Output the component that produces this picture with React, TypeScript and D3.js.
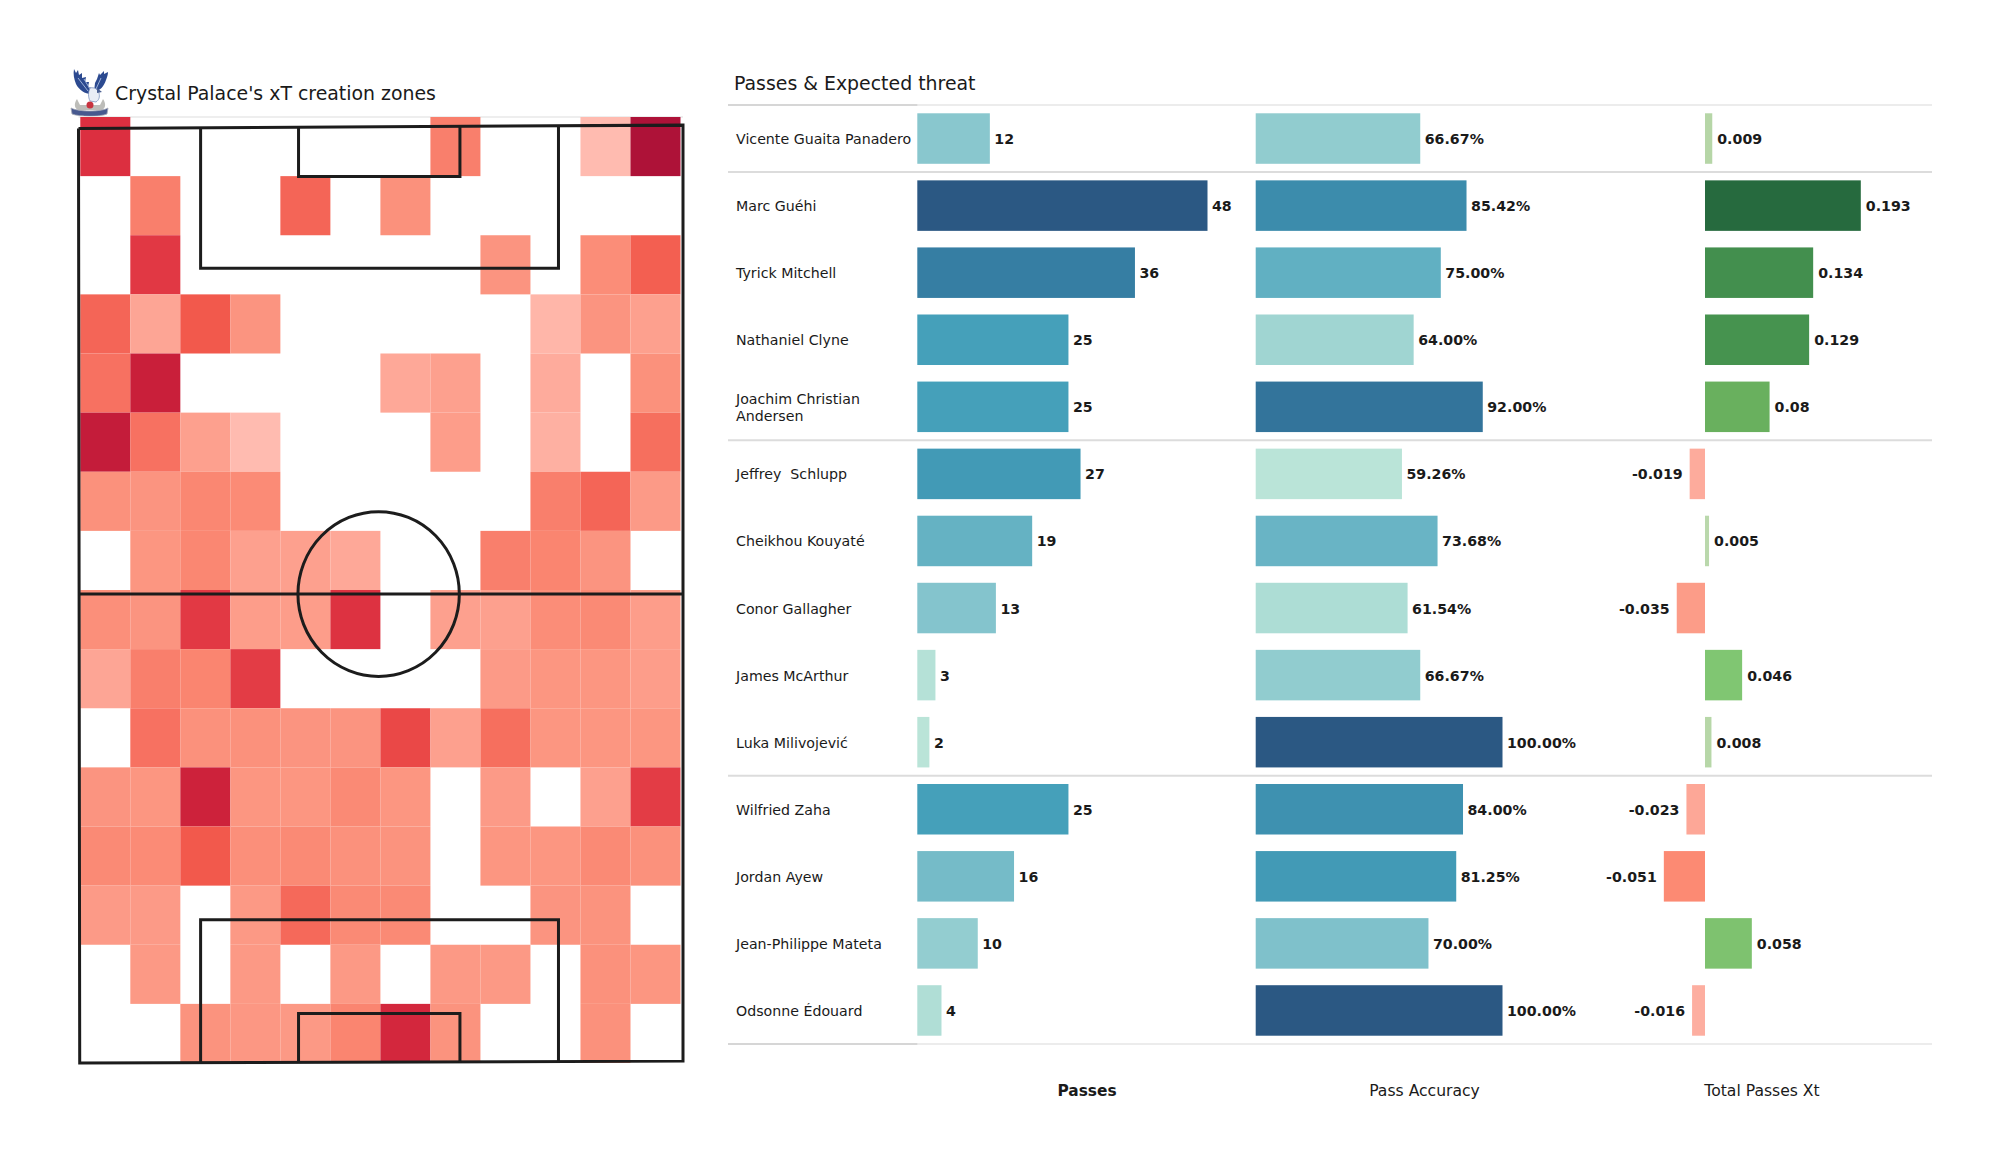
import * as d3 from 'd3';

const FONT = '"DejaVu Sans", sans-serif';
const INK = '#1a1a1a';

// heat map cells, top row first, 0 = no zone drawn
const zoneRow00 = [.8, 0, 0, 0, 0, 0, 0, .42, 0, 0, .1, 1];
const zoneRow01 = [0, .42, 0, 0, .52, 0, .3, 0, 0, 0, 0, 0];
const zoneRow02 = [0, .73, 0, 0, 0, 0, 0, 0, .28, 0, .33, .55];
const zoneRow03 = [.52, .18, .58, .28, 0, 0, 0, 0, 0, .12, .28, .2];
const zoneRow04 = [.47, .9, 0, 0, 0, 0, .17, .2, 0, .16, 0, .3];
const zoneRow05 = [.92, .47, .2, .1, 0, 0, 0, .22, 0, .14, 0, .48];
const zoneRow06 = [.3, .28, .38, .35, 0, 0, 0, 0, 0, .42, .52, .24];
const zoneRow07 = [0, .27, .38, .2, .2, .17, 0, 0, .42, .4, .28, 0];
const zoneRow08 = [.32, .28, .72, .22, .22, .78, 0, .2, .2, .33, .36, .22];
const zoneRow09 = [.18, .42, .4, .7, 0, 0, 0, 0, .24, .27, .27, .22];
const zoneRow10 = [0, .47, .3, .3, .28, .28, .65, .2, .48, .27, .27, .27];
const zoneRow11 = [.28, .27, .88, .27, .27, .36, .27, 0, .24, 0, .2, .7];
const zoneRow12 = [.36, .35, .58, .32, .36, .3, .29, 0, .27, .27, .36, .3];
const zoneRow13 = [.24, .24, 0, .25, .5, .36, .36, 0, 0, .28, .29, 0];
const zoneRow14 = [0, .25, 0, .25, 0, .25, 0, .25, .25, 0, .3, .27];
const zoneRow15 = [0, 0, .29, .26, .25, .4, .85, .29, 0, 0, .3, 0];
const zones = [zoneRow00, zoneRow01, zoneRow02, zoneRow03, zoneRow04, zoneRow05, zoneRow06, zoneRow07,
    zoneRow08, zoneRow09, zoneRow10, zoneRow11, zoneRow12, zoneRow13, zoneRow14, zoneRow15];

const players = [
    'Vicente Guaita Panadero', 'Marc Guéhi', 'Tyrick Mitchell', 'Nathaniel Clyne',
    'Joachim Christian\nAndersen', 'Jeffrey  Schlupp', 'Cheikhou Kouyaté', 'Conor Gallagher',
    'James McArthur', 'Luka Milivojević', 'Wilfried Zaha', 'Jordan Ayew',
    'Jean-Philippe Mateta', 'Odsonne Édouard',
];
const passes = [12, 48, 36, 25, 25, 27, 19, 13, 3, 2, 25, 16, 10, 4];
const accuracy = [66.67, 85.42, 75, 64, 92, 59.26, 73.68, 61.54, 66.67, 100, 84, 81.25, 70, 100];
const passesXt = [0.009, 0.193, 0.134, 0.129, 0.08, -0.019, 0.005, -0.035, 0.046, 0.008, -0.023, -0.051, 0.058, -0.016];
const separatorsAfter = [0, 4, 9];

// pitch markings, in percent of the pitch
const outerLine: [number, number][] = [[0, 0.15], [100, -0.2], [100, 99.8], [0.2, 100], [0, 0.15]];
const boxX = [20.2, 79.4];
const topBoxDepth = 15.1;
const bottomBoxDepth = 15.3;
const sixX = [36.4, 63.1];
const sixDepth = 5.3;
const halfway = 49.9;
const circleX = [36.3, 63];
const circleY = [41.1, 58.7];

const zoneColor = d3.scaleLinear<string>()
    .domain([.1, .2, .3, .4, .5, .6, .7, .8, .9, 1])
    .range(['#ffbbb0', '#fda08e', '#fb917c', '#fa8570', '#f5695a', '#f15549', '#e33c45', '#dc2f40', '#c91f3a', '#ae1238']);
const blues = d3.scaleLinear<string>()
    .domain([0, .25, .5, .75, 1])
    .range(['#bae4d8', '#82c3cc', '#45a0ba', '#357ca2', '#2b5883']);
const greens = d3.scaleLinear<string>()
    .domain([0, .01, .046, .058, .08, .13, .193])
    .range(['#bfdab2', '#b5d6a6', '#80c672', '#7ec26f', '#69b05e', '#45924f', '#266a3e']);
const reds = d3.scaleLinear<string>()
    .domain([-.051, -.035, -.016])
    .range(['#fc8a73', '#fc9c88', '#fdaea0']);

const Crest = () => (
    <g transform="translate(70,67)">
        <path d="M4 2 L6 6 L8 3 L9 8 L12 6 L12 11 L16 10 L15 15 L19 15 L18 20 L22 21 L21 27 C15 27 9 23 6 17 C4 12 3 7 4 2Z" fill="#2c4a90" />
        <path d="M38 5 L34 7 L34 4 L30 8 L29 6 L27 12 L25 16 L24 25 C30 24 34 19 36 13 C37 10 38 8 38 5Z" fill="#2c4a90" />
        <path d="M8 11 L18 24 M14 12 L20 22 M31 11 L26 22" stroke="#9db2d8" strokeWidth="1" fill="none" />
        <path d="M20 21 C24 20 28 22 29 26 C30 30 29 33 26 35 L20 34 C18 30 18 25 20 21Z" fill="#e9edf5" stroke="#6f86b8" strokeWidth="0.7" />
        <path d="M27 21 L32 25 L27 26Z" fill="#4a5f92" />
        <path d="M7 32 C4 36 4 41 8 43 L32 43 C36 41 36 36 33 32 L30 38 L10 38Z" fill="#bdbdb9" />
        <circle cx="20" cy="38" r="3.5" fill="#c8333f" />
        <path d="M1 41 C8 45 32 45 38 41 L37 47 C30 50 10 50 2 47Z" fill="#47598f" stroke="#a4a8b5" strokeWidth="0.8" />
    </g>
);

export default function App() {
    const px = d3.scaleLinear().domain([0, 100]).range([78.5, 683]);
    const py = d3.scaleLinear().domain([0, 100]).range([127, 1063]);
    const col = d3.scaleBand<number>().domain(d3.range(12)).range([80.3, 680.5]);
    const row = d3.scaleBand<number>().domain(d3.range(16)).range([117, 1063]);

    const band = d3.scaleBand<number>().domain(d3.range(players.length)).range([105, 1044])
        .paddingInner(0.247).paddingOuter(0.1235);
    const xPasses = d3.scaleLinear().domain([0, 48]).range([917.3, 1207.5]);
    const xAcc = d3.scaleLinear().domain([0, 100]).range([1255.7, 1502.5]);
    const xXt = d3.scaleLinear().domain([0, 0.193]).range([1705, 1860.8]);
    const tPasses = d3.scaleLinear().domain(d3.extent(passes) as [number, number]);
    const tAcc = d3.scaleLinear().domain(d3.extent(accuracy) as [number, number]);
    const outer = d3.line<[number, number]>().x(d => px(d[0])).y(d => py(d[1]));
    const centre = (i: number) => band(i)! + band.bandwidth() / 2;
    const pitchStroke = { fill: 'none', stroke: '#1c1c1c', strokeWidth: 3 };
    const lineY = (i: number) => band.range()[0] + band.step() * (i + 1);

    return (
        <svg width={2000} height={1175} style={{ position: 'absolute', left: 0, top: 0, background: '#fff' }} fontFamily={FONT}>
            <Crest />
            <text x={115} y={100} fontSize={18.9} fill={INK}>Crystal Palace's xT creation zones</text>
            <text x={734} y={90} fontSize={18.9} fill={INK}>Passes &amp; Expected threat</text>

            <line x1={px(0)} x2={px(100)} y1={117} y2={117} stroke="#e8e8e8" strokeWidth={1.5} />
            {zones.map((cells, r) => cells.map((v, c) => v > 0 && (
                <rect key={`${r}-${c}`} x={col(c)} y={row(r)} width={col.bandwidth()} height={row.bandwidth()} fill={zoneColor(v)} />
            )))}

            <path d={outer(outerLine) ?? ''} {...pitchStroke} />
            <path d={`M${px(boxX[0])},${py(0)}V${py(topBoxDepth)}H${px(boxX[1])}V${py(0)}`} {...pitchStroke} />
            <path d={`M${px(sixX[0])},${py(0)}V${py(sixDepth)}H${px(sixX[1])}V${py(0)}`} {...pitchStroke} />
            <path d={`M${px(boxX[0])},${py(100)}V${py(100 - bottomBoxDepth)}H${px(boxX[1])}V${py(100)}`} {...pitchStroke} />
            <path d={`M${px(sixX[0])},${py(100)}V${py(100 - sixDepth)}H${px(sixX[1])}V${py(100)}`} {...pitchStroke} />
            <line x1={px(0)} x2={px(100)} y1={py(halfway)} y2={py(halfway)} {...pitchStroke} />
            <ellipse cx={px(d3.mean(circleX)!)} cy={py(d3.mean(circleY)!)}
                rx={(px(circleX[1]) - px(circleX[0])) / 2} ry={(py(circleY[1]) - py(circleY[0])) / 2} {...pitchStroke} />

            {[-1, players.length - 1].map(i => (
                <g key={i}>
                    <line x1={728} x2={1932} y1={lineY(i)} y2={lineY(i)} stroke="#e6e6e6" strokeWidth={1.5} />
                    <line x1={728} x2={xPasses(0)} y1={lineY(i)} y2={lineY(i)} stroke="#d6d6d6" strokeWidth={2} />
                </g>
            ))}
            {separatorsAfter.map(i => (
                <line key={i} x1={728} x2={1932} y1={lineY(i)} y2={lineY(i)} stroke="#dcdcdc" strokeWidth={2} />
            ))}

            {players.map((name, i) => {
                const lines = name.split('\n');
                const xt = passesXt[i];
                const textY = centre(i) + 5.5;
                return (
                    <g key={name}>
                        <text x={736} y={textY - (lines.length - 1) * 8.5} fontSize={14.2} fill={INK} style={{ whiteSpace: 'pre' }}>
                            {lines.map((l, k) => <tspan key={k} x={736} dy={k ? 17 : 0}>{l}</tspan>)}
                        </text>

                        <rect x={xPasses(0)} y={band(i)} width={xPasses(passes[i]) - xPasses(0)} height={band.bandwidth()} fill={blues(tPasses(passes[i]))} />
                        <text x={xPasses(passes[i]) + 4.5} y={textY} fontSize={14.2} fontWeight="bold" fill={INK}>{passes[i]}</text>

                        <rect x={xAcc(0)} y={band(i)} width={xAcc(accuracy[i]) - xAcc(0)} height={band.bandwidth()} fill={blues(tAcc(accuracy[i]))} />
                        <text x={xAcc(accuracy[i]) + 4.5} y={textY} fontSize={14.2} fontWeight="bold" fill={INK}>{accuracy[i].toFixed(2)}%</text>

                        <rect x={Math.min(xXt(0), xXt(xt))} y={band(i)} width={Math.abs(xXt(xt) - xXt(0))} height={band.bandwidth()} fill={xt > 0 ? greens(xt) : reds(xt)} />
                        <text x={xXt(xt) + (xt > 0 ? 5 : -7)} y={textY} fontSize={14.2} fontWeight="bold" fill={INK}
                            textAnchor={xt > 0 ? 'start' : 'end'}>{xt}</text>
                    </g>
                );
            })}

            <text x={1087} y={1096} fontSize={15.4} fontWeight="bold" fill={INK} textAnchor="middle">Passes</text>
            <text x={1424.5} y={1096} fontSize={15.6} fill={INK} textAnchor="middle">Pass Accuracy</text>
            <text x={1762} y={1096} fontSize={15.6} fill={INK} textAnchor="middle">Total Passes Xt</text>
        </svg>
    );
}
